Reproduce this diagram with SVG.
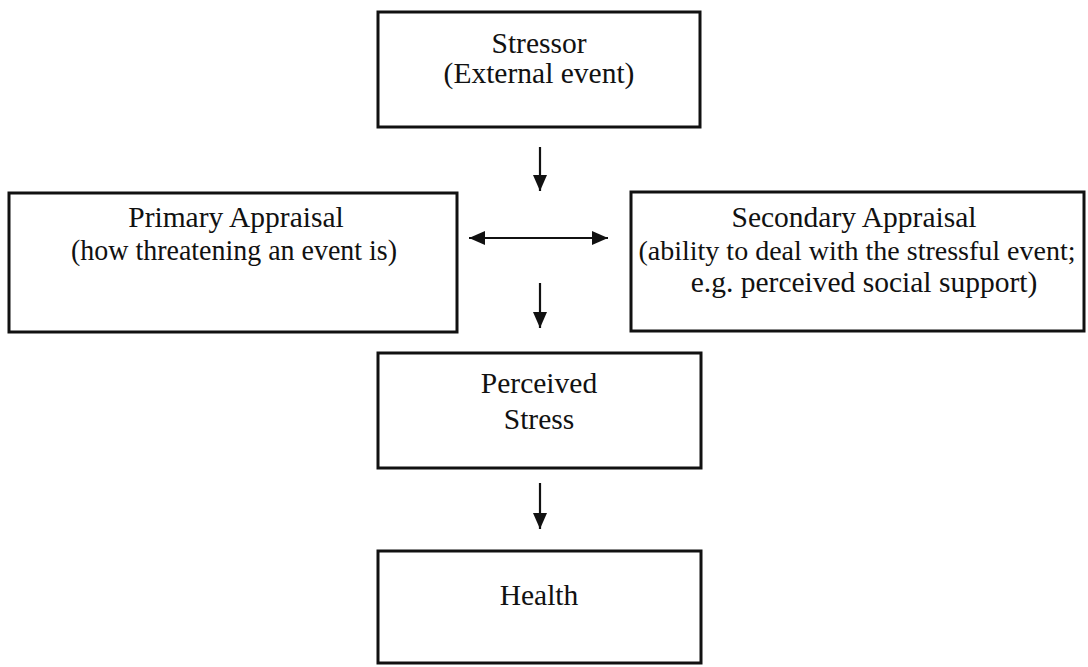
<svg xmlns="http://www.w3.org/2000/svg" width="1088" height="667" viewBox="0 0 1088 667">
<style>
.box{fill:#fff;stroke:#111;stroke-width:3}
.t{font-family:"Liberation Serif","Times New Roman",serif;font-size:29.5px;fill:#111;text-anchor:middle}
.s{font-size:28px}
.c{stroke:#111;stroke-width:2.2;fill:none}
</style>
<defs>
<marker id="ah" viewBox="0 0 16 14" refX="16" refY="7" markerWidth="16" markerHeight="14" orient="auto-start-reverse" markerUnits="userSpaceOnUse">
<path d="M0,0 L16,7 L0,14 z" fill="#111"/>
</marker>
</defs>
<rect width="1088" height="667" fill="#fff"/>
<g id="stressor">
<rect class="box" x="378" y="12" width="322" height="115"/>
<text class="t" x="539" y="53">Stressor</text>
<text class="t" x="539" y="83">(External event)</text>
</g>
<g id="primary">
<rect class="box" x="9" y="193" width="448" height="139"/>
<text class="t" x="236" y="227">Primary Appraisal</text>
<text class="t" x="234" y="260" textLength="326" lengthAdjust="spacingAndGlyphs">(how threatening an event is)</text>
</g>
<g id="secondary">
<rect class="box" x="631" y="192" width="453" height="139"/>
<text class="t" x="854" y="227">Secondary Appraisal</text>
<text class="t s" x="857" y="260">(ability to deal with the stressful event;</text>
<text class="t" x="864" y="292">e.g. perceived social support)</text>
</g>
<g id="perceived">
<rect class="box" x="378" y="353" width="323" height="115"/>
<text class="t" x="539" y="393">Perceived</text>
<text class="t" x="539" y="429">Stress</text>
</g>
<g id="health">
<rect class="box" x="378" y="551" width="323" height="112"/>
<text class="t" x="539" y="605">Health</text>
</g>
<g id="connectors">
<line class="c" x1="540" y1="147" x2="540" y2="191" marker-end="url(#ah)"/>
<line class="c" x1="469" y1="238" x2="608" y2="238" marker-start="url(#ah)" marker-end="url(#ah)"/>
<line class="c" x1="540" y1="283" x2="540" y2="328" marker-end="url(#ah)"/>
<line class="c" x1="540" y1="483" x2="540" y2="529" marker-end="url(#ah)"/>
</g>
</svg>
